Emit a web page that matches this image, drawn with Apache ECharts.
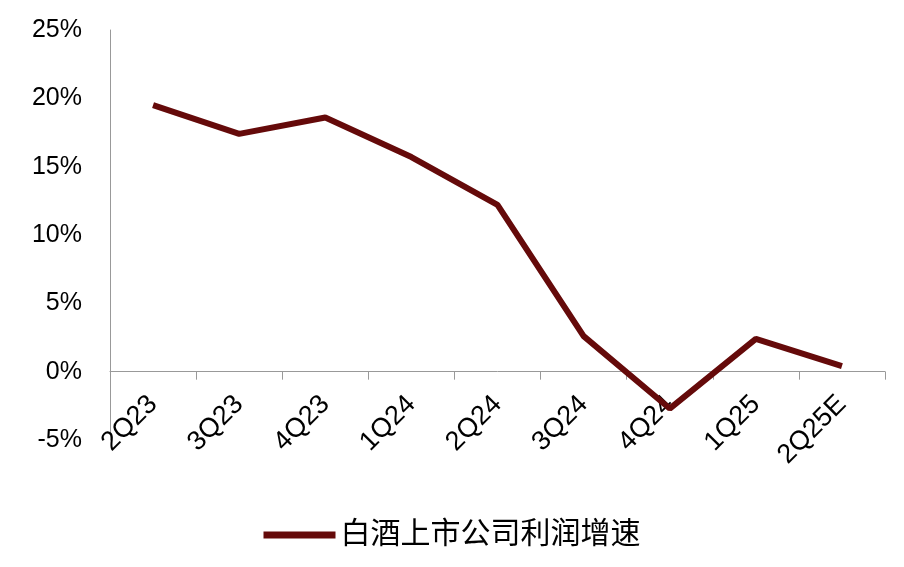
<!DOCTYPE html>
<html><head><meta charset="utf-8">
<script src="https://cdn.jsdelivr.net/npm/echarts@6/dist/echarts.min.js"></script>
<style>html,body{margin:0;padding:0;background:#fff}#c{width:904px;height:567px}</style>
</head><body><div id="c"></div>
<script>
const categories = ['2Q23','3Q23','4Q23','1Q24','2Q24','3Q24','4Q24','1Q25','2Q25E'];
const growth = [19.5, 17.4, 18.6, 15.7, 12.2, 2.6, -2.7, 2.4, 0.4];
const seriesName = '白酒上市公司利润增速';
const font = '"Liberation Sans", Arial, "Noto Sans CJK SC", sans-serif';
const chart = echarts.init(document.getElementById('c'));
chart.setOption({
  animation: false,
  grid: {left: 110, right: 19, top: 30, bottom: 127},
  legend: {bottom: 12, left: 'center', itemWidth: 72, itemHeight: 7, icon: 'rect', itemGap: 10,
    textStyle: {fontSize: 30, color: '#000', fontFamily: font},
    data: [seriesName]},
  xAxis: {type: 'category', data: categories, boundaryGap: true,
    axisLine: {onZero: true, lineStyle: {color: '#999'}},
    axisTick: {show: true, length: 8, lineStyle: {color: '#999'}},
    axisLabel: {rotate: 45, fontSize: 27, color: '#000', fontFamily: font, margin: -40}},
  yAxis: {type: 'value', min: -5, max: 25, interval: 5,
    axisLine: {show: true, lineStyle: {color: '#999'}},
    axisTick: {show: false}, splitLine: {show: false},
    axisLabel: {formatter: '{value}%', fontSize: 25, color: '#000', fontFamily: font, margin: 28}},
  series: [{name: seriesName, type: 'line', data: growth, symbol: 'none',
    lineStyle: {color: '#650A0A', width: 6}, itemStyle: {color: '#650A0A'}}]
});
</script></body></html>
